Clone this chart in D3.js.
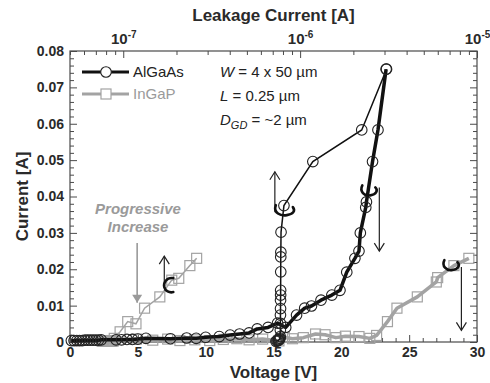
<!DOCTYPE html>
<html><head><meta charset="utf-8">
<script src="https://cdn.jsdelivr.net/npm/d3@7"></script>
<style>
body{margin:0;background:#fff}
svg{display:block;font-family:"Liberation Sans",Arial,Helvetica,sans-serif}
</style>
</head><body>
<svg id="chart" width="490" height="383"></svg>
<script>
// ---------- data ----------
const voltageTicks = [0, 5, 10, 15, 20, 25, 30];
const voltageTickLabels = ["0", "5", "10", "15", "20", "25", "30"];
const currentTicks = [0, 0.01, 0.02, 0.03, 0.04, 0.05, 0.06, 0.07, 0.08];
const currentTickLabels = ["0", "0.01", "0.02", "0.03", "0.04", "0.05", "0.06", "0.07", "0.08"];
const leakageMajorTicks = [1e-7, 1e-6, 1e-5];
const leakageTickExponents = ["-7", "-6", "-5"];
const seriesNames = ["AlGaAs", "InGaP"];

// AlGaAs: current vs voltage (bottom axis)
const algaasVoltage = [0.1,0.3,0.5,0.7,0.9,1.1,1.3,1.5,1.7,1.9,2.1,2.3,3.4,3.8,4.2,4.6,5.0,5.6,7.4,8.6,9.3,10.0,11.0,11.8,12.5,13.2,13.8,14.6,15.3,15.9,16.7,17.3,17.8,18.5,19.3,19.9,20.4,21.0,21.3,21.4,21.8,21.85,22.3,22.7,23.3];
const algaasVoltageCurrent = [0.0004,0.0004,0.0004,0.0004,0.0004,0.0005,0.0005,0.0005,0.0005,0.0005,0.0005,0.0006,0.0006,0.0006,0.0007,0.0007,0.0008,0.0010,0.0009,0.0011,0.0010,0.0013,0.0015,0.0019,0.0022,0.0025,0.0036,0.0040,0.0052,0.0040,0.0074,0.0093,0.0099,0.0115,0.0129,0.0142,0.0192,0.0230,0.0250,0.0300,0.0370,0.0385,0.0496,0.0583,0.0750];
// AlGaAs: current vs leakage current (top axis)
const algaasLeakage = [7.3e-7,7.4e-7,7.5e-7,7.55e-7,7.6e-7,7.65e-7,7.7e-7,7.72e-7,7.73e-7,7.74e-7,7.74e-7,7.75e-7,7.75e-7,7.76e-7,7.76e-7,7.77e-7,7.77e-7,7.78e-7,7.8e-7,8.1e-7,1.18e-6,2.23e-6,3.08e-6];
const algaasLeakageCurrent = [0.0002,0.0003,0.0004,0.0005,0.0006,0.0008,0.0010,0.0015,0.0033,0.0051,0.0074,0.0092,0.0115,0.0129,0.0142,0.0193,0.0234,0.0247,0.0302,0.0375,0.0496,0.0583,0.0750];
// InGaP: current vs voltage (bottom axis)
const ingapVoltage = [2.4,2.5,2.6,2.7,2.8,2.9,3.0,3.1,3.2,4.9,6.1,7.2,8.1,9.2,10.3,11.3,12.3,13.2,14.2,15.4,15.8,16.4,17.2,18.1,18.8,19.6,20.3,21.3,22.1,22.6,23.4,24.1,25.6,27.0,27.1,28.3,29.4];
const ingapVoltageCurrent = [0.0002,0.0002,0.0003,0.0002,0.0003,0.0002,0.0003,0.0002,0.0003,0.0008,0.0005,0.0008,0.0004,0.0006,0.0004,0.0007,0.0009,0.0006,0.0008,0.0003,0.0013,0.0009,0.0012,0.0022,0.0020,0.0012,0.0016,0.0015,0.0010,0.0018,0.0056,0.0093,0.0124,0.0165,0.0177,0.0210,0.0230];
// InGaP: current vs leakage current (top axis)
const ingapLeakage = [7.6e-8,7.8e-8,8.0e-8,8.2e-8,8.4e-8,8.6e-8,8.9e-8,9.6e-8,1.06e-7,1.18e-7,1.32e-7,1.61e-7,1.88e-7,2.06e-7,2.38e-7,2.60e-7];
const ingapLeakageCurrent = [0.0002,0.0003,0.0002,0.0003,0.0002,0.0004,0.0010,0.0028,0.0056,0.0050,0.0093,0.0124,0.0170,0.0175,0.0210,0.0230];

// annotation arrows in data units: [voltage, fromCurrent, toCurrent]
const blackArrows = [[15.1, 0.0357, 0.0468], [22.8, 0.0425, 0.0250], [6.95, 0.0162, 0.0236], [28.85, 0.0206, 0.0032]];
const progressiveArrow = [4.95, 0.0272, 0.0108];

// ---------- layout ----------
const FONT = '"Liberation Sans",Arial,sans-serif';
const L = 70, R = 477, T = 51, B = 342;
const svg = d3.select("#chart");
const x = d3.scaleLinear().domain([0, 30]).range([L, R]);
const xTop = d3.scaleLog().domain([5e-8, 1e-5]).range([L, R]);
const y = d3.scaleLinear().domain([0, 0.08]).range([B, T]);

const axisColor = "#4a4a4a", textColor = "#2a2a2a";
const black = "#111", gray = "#a3a3a3", grayText = "#9a9a9a";

function styleAxis(g) {
  g.attr("font-family", FONT);
  g.select(".domain").remove();
  g.selectAll(".tick line").attr("stroke", axisColor).attr("stroke-width", 1);
  g.selectAll(".tick text").attr("fill", textColor).attr("font-weight", "bold")
    .attr("font-size", 14).attr("font-family", FONT);
}

// minor ticks
const vMinor = d3.range(0, 31, 1).filter(v => v % 5 !== 0);
const iMinor = d3.range(0, 0.0801, 0.002).filter((v, i) => i % 5 !== 0);
const leakMinor = [];
[1e-8, 1e-7, 1e-6].forEach(d => { for (let k = 2; k <= 9; k++) { const v = k * d; if (v >= 5e-8 && v <= 1e-5) leakMinor.push(v); } });

// bottom axis
svg.append("g").attr("transform", `translate(0,${B})`)
  .call(d3.axisBottom(x).tickValues(vMinor).tickSize(-4).tickFormat(""))
  .call(styleAxis);
svg.append("g").attr("transform", `translate(0,${B})`)
  .call(d3.axisBottom(x).tickValues(voltageTicks).tickSize(-7).tickPadding(5)
    .tickFormat((d, i) => voltageTickLabels[i]))
  .call(styleAxis);

// left axis
svg.append("g").attr("transform", `translate(${L},0)`)
  .call(d3.axisLeft(y).tickValues(iMinor).tickSize(-4).tickFormat(""))
  .call(styleAxis);
svg.append("g").attr("transform", `translate(${L},0)`)
  .call(d3.axisLeft(y).tickValues(currentTicks).tickSize(-7).tickPadding(6)
    .tickFormat((d, i) => currentTickLabels[i]))
  .call(styleAxis);

// right axis
svg.append("g").attr("transform", `translate(${R},0)`)
  .call(d3.axisRight(y).tickValues(iMinor).tickSize(-4).tickFormat(""))
  .call(styleAxis);
svg.append("g").attr("transform", `translate(${R},0)`)
  .call(d3.axisRight(y).tickValues(currentTicks).tickSize(-7).tickFormat(""))
  .call(styleAxis);

// top axis (log)
svg.append("g").attr("transform", `translate(0,${T})`)
  .call(d3.axisTop(xTop).tickValues(leakMinor).tickSize(-4).tickFormat(""))
  .call(styleAxis);
const topMajor = svg.append("g").attr("transform", `translate(0,${T})`)
  .call(d3.axisTop(xTop).tickValues(leakageMajorTicks).tickSize(-7).tickFormat(""))
  .call(styleAxis);
topMajor.selectAll(".tick").each(function(d, i) {
  const t = d3.select(this).append("text").attr("x", 0).attr("y", -7)
    .attr("text-anchor", "middle").attr("fill", textColor)
    .attr("font-family", FONT).attr("font-weight", "bold").attr("font-size", 15);
  t.append("tspan").text("10");
  t.append("tspan").attr("font-size", 10).attr("dy", -6).text(leakageTickExponents[i]);
});

// frame
svg.append("rect").attr("x", L).attr("y", T).attr("width", R - L).attr("height", B - T)
  .attr("fill", "none").attr("stroke", axisColor).attr("stroke-width", 1.2);

// axis titles
svg.append("text").attr("x", (L + R) / 2).attr("y", 378).attr("text-anchor", "middle")
  .attr("font-weight", "bold").attr("font-size", 17).attr("fill", textColor).text("Voltage [V]");
svg.append("text").attr("x", (L + R) / 2).attr("y", 21).attr("text-anchor", "middle")
  .attr("font-weight", "bold").attr("font-size", 17).attr("fill", textColor).text("Leakage Current [A]");
svg.append("text").attr("transform", `translate(28,${(T + B) / 2}) rotate(-90)`).attr("text-anchor", "middle")
  .attr("font-weight", "bold").attr("font-size", 17).attr("fill", textColor).text("Current [A]");

// ---------- series ----------
const plot = svg.append("g");
function zipPts(xs, ys) { return xs.map((v, i) => [v, ys[i]]); }
const lineV = d3.line().x(d => x(d[0])).y(d => y(d[1]));
const lineL = d3.line().x(d => xTop(d[0])).y(d => y(d[1]));

const ingapV = zipPts(ingapVoltage, ingapVoltageCurrent);
const ingapL = zipPts(ingapLeakage, ingapLeakageCurrent);
const algaasV = zipPts(algaasVoltage, algaasVoltageCurrent);
const algaasL = zipPts(algaasLeakage, algaasLeakageCurrent);

const sq = 10;
function squares(data, sx) {
  plot.append("g").selectAll("rect").data(data).join("rect")
    .attr("x", d => sx(d[0]) - sq / 2).attr("y", d => y(d[1]) - sq / 2)
    .attr("width", sq).attr("height", sq)
    .attr("fill", "none").attr("stroke", gray).attr("stroke-width", 1.2);
}
function circles(data, sx) {
  plot.append("g").selectAll("circle").data(data).join("circle")
    .attr("cx", d => sx(d[0])).attr("cy", d => y(d[1])).attr("r", 5.3)
    .attr("fill", "none").attr("stroke", "#222").attr("stroke-width", 1.1);
}

plot.append("path").datum(ingapV).attr("d", lineV).attr("fill", "none")
  .attr("stroke", gray).attr("stroke-width", 3.5).attr("stroke-linejoin", "round");
plot.append("path").datum(ingapL).attr("d", lineL).attr("fill", "none")
  .attr("stroke", gray).attr("stroke-width", 1.5);
squares(ingapV, x);
squares(ingapL, xTop);

plot.append("path").datum(algaasV).attr("d", lineV).attr("fill", "none")
  .attr("stroke", black).attr("stroke-width", 3.5).attr("stroke-linejoin", "round");
plot.append("path").datum(algaasL).attr("d", lineL).attr("fill", "none")
  .attr("stroke", black).attr("stroke-width", 1.5);
circles(algaasV, x);
circles(algaasL, xTop);

// ---------- annotations ----------
const ann = svg.append("g");
function arrow(a, color, filled) {
  const px = x(a[0]), y0 = y(a[1]), y1 = y(a[2]);
  const dir = y1 < y0 ? -1 : 1;
  ann.append("line").attr("x1", px).attr("x2", px).attr("y1", y0).attr("y2", y1)
    .attr("stroke", color).attr("stroke-width", filled ? 1.6 : 1.2);
  if (filled) {
    ann.append("path").attr("d", `M${px - 5},${y1 - dir * 8} L${px},${y1} L${px + 5},${y1 - dir * 8} Z`)
      .attr("fill", color);
  } else {
    ann.append("path").attr("d", `M${px - 5},${y1 - dir * 8} L${px},${y1} L${px + 5},${y1 - dir * 8}`)
      .attr("fill", "none").attr("stroke", color).attr("stroke-width", 1.2);
  }
}
blackArrows.forEach(a => arrow(a, "#222", false));
arrow(progressiveArrow, grayText, true);

// curl symbols (axis indicators), placed relative to arrow anchors
function curl(cx, cy, kind) {
  let d;
  if (kind === "under") d = `M${cx - 9},${cy - 6} C${cx - 12},${cy + 2} ${cx - 4},${cy + 5} ${cx + 2},${cy + 4} C${cx + 8},${cy + 3} ${cx + 11},${cy} ${cx + 8},${cy - 4}`;
  else if (kind === "wrap") d = `M${cx - 7},${cy - 6} C${cx - 10},${cy} ${cx - 5},${cy + 5} ${cx + 1},${cy + 4} C${cx + 7},${cy + 3} ${cx + 9},${cy - 1} ${cx + 6},${cy - 4}`;
  else d = `M${cx + 5},${cy - 7} C${cx - 2},${cy - 8} ${cx - 5},${cy - 2} ${cx - 4},${cy + 2} C${cx - 3},${cy + 6} ${cx + 1},${cy + 8} ${cx + 5},${cy + 7}`;
  ann.append("path").attr("d", d).attr("fill", "none").attr("stroke", "#111")
    .attr("stroke-width", 2.6).attr("stroke-linecap", "round");
}
curl(x(blackArrows[0][0]) + 10, y(blackArrows[0][1]) - 1, "under");
curl(x(blackArrows[1][0]) - 10, y(blackArrows[1][1]) + 4, "wrap");
curl(x(blackArrows[2][0]) + 4, y(blackArrows[2][1]) + 2, "c");
curl(x(blackArrows[3][0]) - 10, y(blackArrows[3][1]) - 1, "wrap");

svg.append("text").attr("x", 138).attr("y", 214).attr("text-anchor", "middle")
  .attr("font-weight", "bold").attr("font-style", "italic").attr("font-size", 15)
  .attr("fill", grayText).text("Progressive");
svg.append("text").attr("x", 138).attr("y", 232).attr("text-anchor", "middle")
  .attr("font-weight", "bold").attr("font-style", "italic").attr("font-size", 15)
  .attr("fill", grayText).text("Increase");

// device parameters
const params = svg.append("g").attr("font-size", 15).attr("fill", "#222");
const t1 = params.append("text").attr("x", 220).attr("y", 77);
t1.append("tspan").attr("font-style", "italic").text("W");
t1.append("tspan").text(" = 4 x 50 \u00b5m");
const t2 = params.append("text").attr("x", 220).attr("y", 101);
t2.append("tspan").attr("font-style", "italic").text("L");
t2.append("tspan").text(" = 0.25 \u00b5m");
const t3 = params.append("text").attr("x", 220).attr("y", 125);
t3.append("tspan").attr("font-style", "italic").text("D");
t3.append("tspan").attr("font-style", "italic").attr("font-size", 11).attr("dy", 4).text("GD");
t3.append("tspan").attr("dy", -4).text(" = ~2 \u00b5m");

// legend
const legend = svg.append("g");
const legendRows = [
  { name: seriesNames[0], color: black, text: "#222", marker: "circle", y: 72 },
  { name: seriesNames[1], color: gray, text: grayText, marker: "square", y: 94 }
];
legendRows.forEach(r => {
  legend.append("line").attr("x1", 82).attr("x2", 129).attr("y1", r.y).attr("y2", r.y)
    .attr("stroke", r.color).attr("stroke-width", 3.2);
  if (r.marker === "circle")
    legend.append("circle").attr("cx", 106).attr("cy", r.y).attr("r", 5.3)
      .attr("fill", "#fff").attr("stroke", "#222").attr("stroke-width", 1.1);
  else
    legend.append("rect").attr("x", 106 - sq / 2).attr("y", r.y - sq / 2).attr("width", sq).attr("height", sq)
      .attr("fill", "#fff").attr("stroke", gray).attr("stroke-width", 1.2);
  legend.append("text").attr("x", 133).attr("y", r.y + 5).attr("font-size", 15)
    .attr("fill", r.text).text(r.name);
});
</script>
</body></html>
